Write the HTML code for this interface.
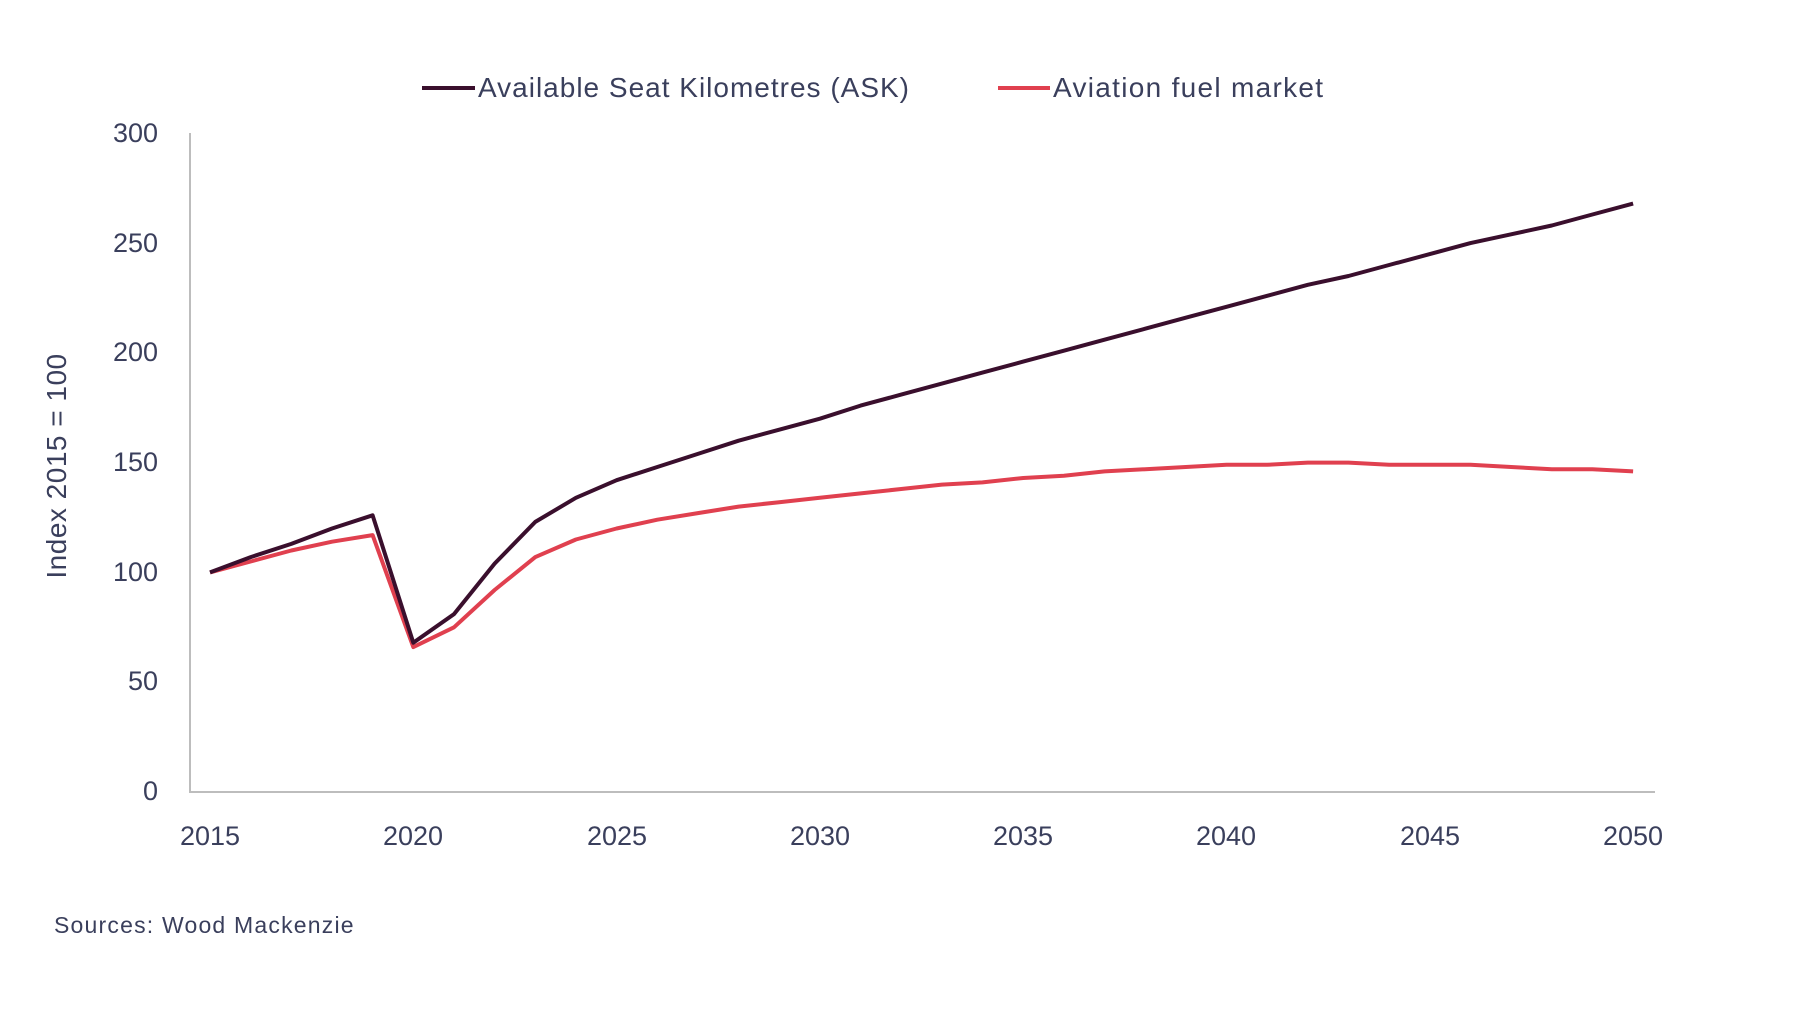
<!DOCTYPE html>
<html><head><meta charset="utf-8"><style>
html,body{margin:0;padding:0;background:#fff;}
svg{display:block;}
text{font-family:"Liberation Sans",sans-serif;fill:#3a3f5c;}
</style></head><body>
<svg id="c" width="1800" height="1012" viewBox="0 0 1800 1012" xmlns="http://www.w3.org/2000/svg">
<line x1="190" y1="133" x2="190" y2="792" stroke="#bdbdbd" stroke-width="2"/>
<line x1="189" y1="792" x2="1655" y2="792" stroke="#bdbdbd" stroke-width="2"/>
<g font-size="27" text-anchor="end">
<text x="158" y="142">300</text><text x="158" y="252">250</text><text x="158" y="361">200</text>
<text x="158" y="471">150</text><text x="158" y="581">100</text><text x="158" y="690">50</text><text x="158" y="800">0</text>
</g>
<g font-size="27" text-anchor="middle">
<text x="210" y="845">2015</text><text x="413" y="845">2020</text><text x="617" y="845">2025</text>
<text x="820" y="845">2030</text><text x="1023" y="845">2035</text><text x="1226" y="845">2040</text>
<text x="1430" y="845">2045</text><text x="1633" y="845">2050</text>
</g>
<text x="0" y="0" font-size="28" text-anchor="middle" letter-spacing="0.5" transform="translate(66,466) rotate(-90)">Index 2015 = 100</text>
<text x="54" y="933" font-size="23" letter-spacing="1.2" fill="#5a6080">Sources: Wood Mackenzie</text>
<line x1="422" y1="88" x2="475" y2="88" stroke="#3a0f2d" stroke-width="4"/>
<text x="478" y="97" font-size="28" letter-spacing="1">Available Seat Kilometres (ASK)</text>
<line x1="998" y1="88" x2="1050" y2="88" stroke="#e0404f" stroke-width="4"/>
<text x="1053" y="97" font-size="28" letter-spacing="1.3">Aviation fuel market</text>
<path id="p2" fill="none" stroke="#e0404f" stroke-width="4" stroke-linejoin="round"/>
<path id="p1" fill="none" stroke="#3a0f2d" stroke-width="4" stroke-linejoin="round"/>
</svg>
<script>
var ask=[100,107,113,120,126,68,81,104,123,134,142,148,154,160,165,170,176,181,186,191,196,201,206,211,216,221,226,231,235,240,245,250,254,258,263,268];
var fuel=[100,105,110,114,117,66,75,92,107,115,120,124,127,130,132,134,136,138,140,141,143,144,146,147,148,149,149,150,150,149,149,149,148,147,147,146];
function d(a){return a.map(function(v,i){return (i?'L':'M')+(210+i*40.66).toFixed(1)+' '+(792-v*2.1957).toFixed(1);}).join(' ');}
document.getElementById('p1').setAttribute('d',d(ask));
document.getElementById('p2').setAttribute('d',d(fuel));
</script>
</body></html>
